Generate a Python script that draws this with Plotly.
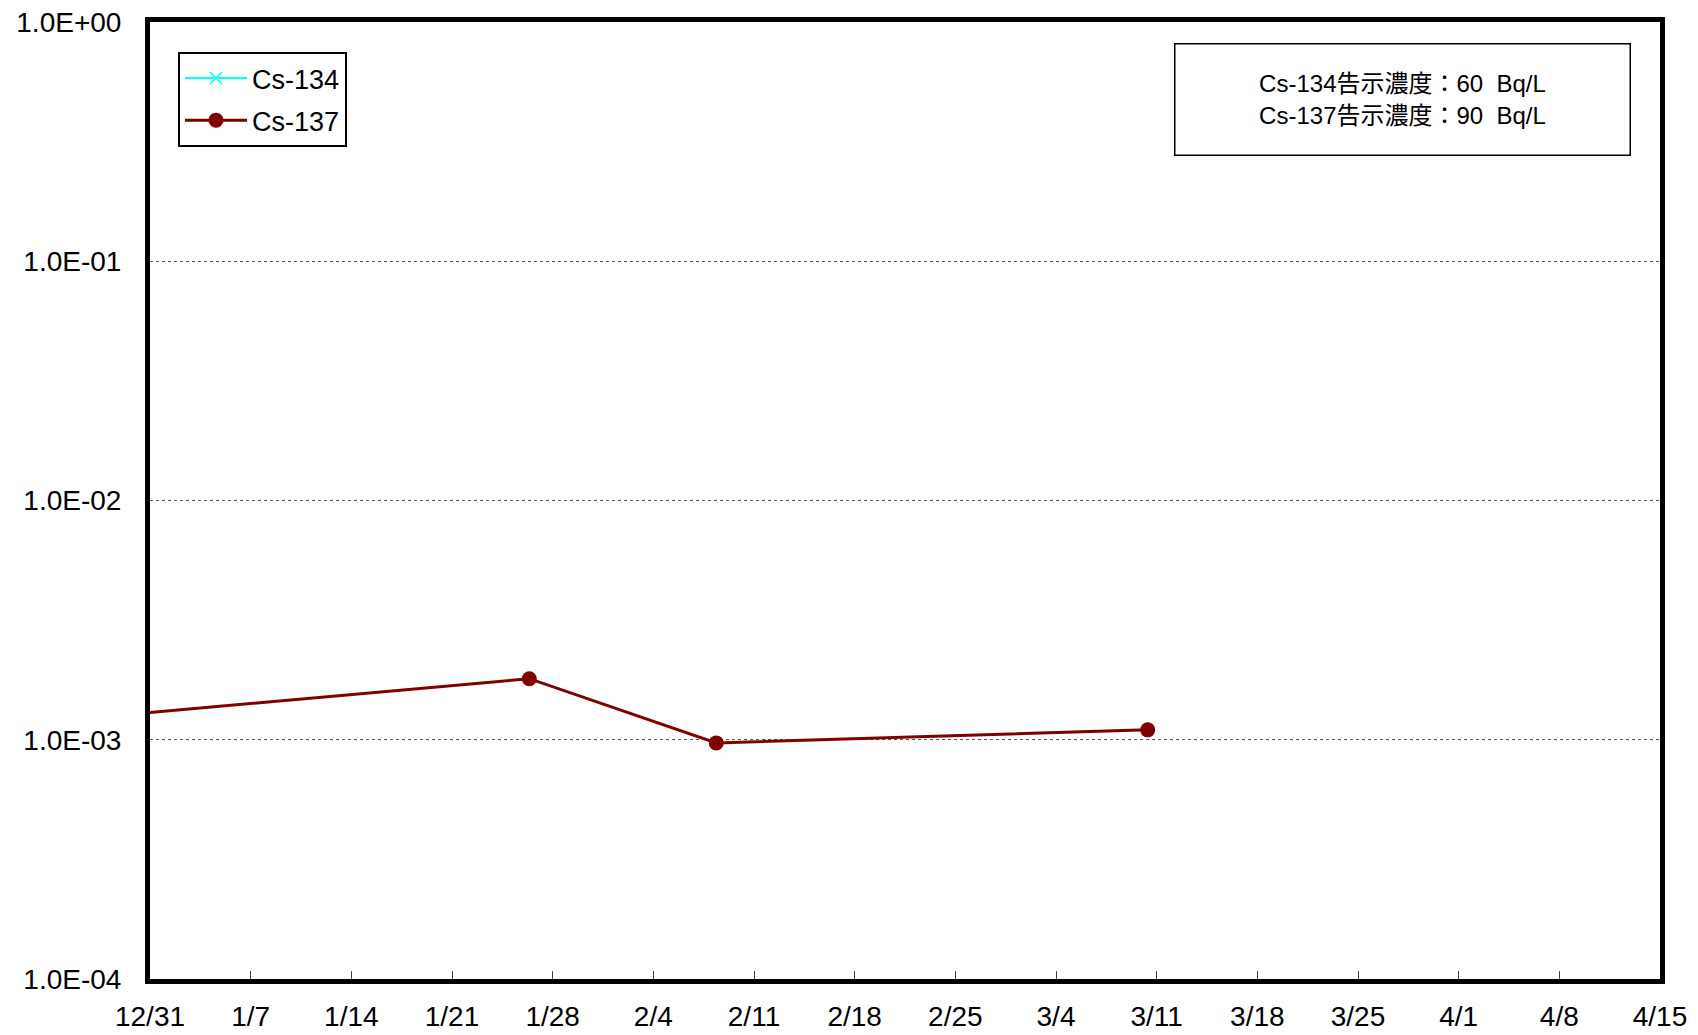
import plotly.graph_objects as go

# ---- data ----
cs137_dates = ["2012-12-17 09:00", "2013-01-26 09:00", "2013-02-08 09:00", "2013-03-10 09:00"]
cs137_values = [1.1e-3, 1.8e-3, 9.7e-4, 1.1e-3]

cs134_dates = ["2012-12-17 09:00", "2013-01-26 09:00", "2013-02-08 09:00", "2013-03-10 09:00"]
cs134_values = [None, None, None, None]  # not detected

x_tick_dates = ["2012-12-31", "2013-01-07", "2013-01-14", "2013-01-21", "2013-01-28",
                "2013-02-04", "2013-02-11", "2013-02-18", "2013-02-25", "2013-03-04",
                "2013-03-11", "2013-03-18", "2013-03-25", "2013-04-01", "2013-04-08",
                "2013-04-15"]
x_tick_labels = ["12/31", "1/7", "1/14", "1/21", "1/28", "2/4", "2/11", "2/18", "2/25",
                 "3/4", "3/11", "3/18", "3/25", "4/1", "4/8", "4/15"]
y_tick_vals = [1e-4, 1e-3, 1e-2, 1e-1, 1]
y_tick_labels = ["1.0E-04", "1.0E-03", "1.0E-02", "1.0E-01", "1.0E+00"]

limit_text = ["Cs-134告示濃度：60  Bq/L", "Cs-137告示濃度：90  Bq/L"]

FONT = "Liberation Sans, Arial, Noto Sans CJK JP, sans-serif"

fig = go.Figure()
fig.add_trace(go.Scatter(
    x=cs134_dates, y=cs134_values, name="Cs-134", mode="lines+markers",
    line=dict(color="#00FFFF", width=2),
    marker=dict(symbol="x-thin", size=12, line=dict(color="#00FFFF", width=1.5)),
    legendgroup="a",
))
fig.add_trace(go.Scatter(
    x=cs137_dates, y=cs137_values, name="Cs-137", mode="lines+markers",
    line=dict(color="#800000", width=3),
    marker=dict(symbol="circle", size=15, color="#800000"),
    legendgroup="b",
))

fig.update_layout(
    width=1698, height=1035,
    margin=dict(l=150, r=38, t=22, b=56, autoexpand=False),
    paper_bgcolor="white", plot_bgcolor="white",
    font=dict(family=FONT, color="black", size=28),
    showlegend=True,
    legend=dict(
        xref="container", yref="container",
        x=178 / 1698, y=1 - 52 / 1035, xanchor="left", yanchor="top",
        bgcolor="white", bordercolor="black", borderwidth=2,
        font=dict(size=27, family=FONT),
        tracegroupgap=4, traceorder="grouped", itemwidth=62,
    ),
)

fig.update_xaxes(
    type="date", range=["2012-12-31", "2013-04-15"],
    tickvals=x_tick_dates, ticktext=x_tick_labels,
    ticks="inside", ticklen=8, tickwidth=1, tickcolor="#444",
    showline=True, linecolor="black", linewidth=5, mirror=True,
    showgrid=False, zeroline=False, automargin=False,
    tickfont=dict(size=28), ticklabelstandoff=8,
)
fig.update_yaxes(
    type="log", range=[-4, 0],
    tickvals=y_tick_vals, ticktext=y_tick_labels,
    ticks="", showline=True, linecolor="black", linewidth=5, mirror=True,
    showgrid=True, gridcolor="#555555", griddash="dot", gridwidth=1,
    zeroline=False, automargin=False, tickfont=dict(size=28), ticklabelstandoff=18,
)

fig.add_annotation(
    xref="paper", yref="paper",
    x=(1402 - 150) / (1660 - 150), y=(979 - 99) / (979 - 22),
    xanchor="center", yanchor="middle",
    text="<br>".join(limit_text), showarrow=False, align="center",
    font=dict(size=24, family=FONT),
    bordercolor="black", borderwidth=1.5, borderpad=0,
    bgcolor="white", width=454, height=110,
)

fig.write_html(
    "out.html",
    config={"displayModeBar": False},
    post_script="document.body.style.margin='0';document.body.style.overflow='hidden';",
)
